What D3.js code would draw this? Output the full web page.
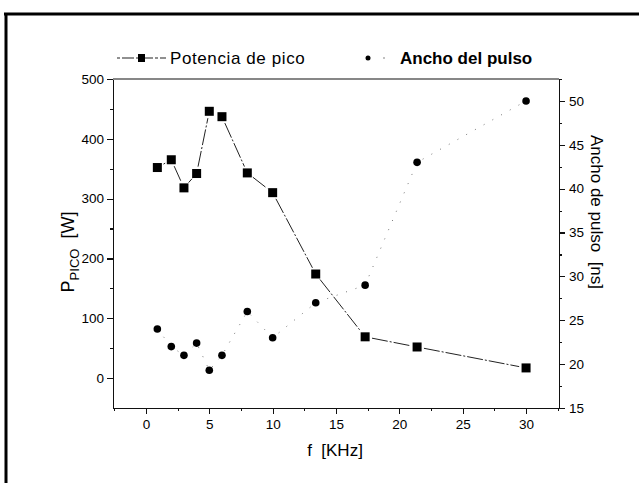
<!DOCTYPE html>
<html>
<head>
  <meta charset="UTF-8">
  <title>Potencia de pico / Ancho del pulso</title>
  <style>
    body { margin: 0; background: #fff; }
    svg { display: block; }
    text { font-family: 'Liberation Sans', Arial, sans-serif; fill: #000; }
    .axis path, .axis line { stroke: #111; stroke-width: 1.2; shape-rendering: crispEdges; }
    .axis text { font-size: 13.5px; fill: #000; }
  </style>
</head>
<body>
<svg id="chart"></svg>

<script src="https://cdnjs.cloudflare.com/ajax/libs/d3/7.8.5/d3.min.js"></script>
<script>

// data
const freq     = [0.9, 2, 3, 4, 5, 6, 8, 10, 13.4, 17.3, 21.4, 30];       // f [KHz]
const potencia = [352, 365, 318, 342, 446, 437, 343, 310, 174, 69, 52, 17]; // P pico [W]
const pulso    = [24, 22, 21, 22.4, 19.3, 21, 26, 23, 27, 29, 43, 50];   // ancho [ns]

const xTicks  = [0, 5, 10, 15, 20, 25, 30];
const yLTicks = [0, 100, 200, 300, 400, 500];
const yRTicks = [15, 20, 25, 30, 35, 40, 45, 50];

const width = 639, height = 483;
const plot = {left: 113, right: 559, top: 79, bottom: 408};

let svg = d3.select("#chart")
    .attr("width", width)
    .attr("height", height);

// page frame (top and left edge of the scanned box)
svg.append("line")
    .attr("x1", 4).attr("x2", width).attr("y1", 14).attr("y2", 14)
    .attr("stroke", "#000").attr("stroke-width", 3);
svg.append("line")
    .attr("x1", 6).attr("x2", 6).attr("y1", 13).attr("y2", height)
    .attr("stroke", "#000").attr("stroke-width", 3);

// scales
let x = d3.scaleLinear().domain([-2.6, 32.6]).range([plot.left, plot.right]);
let yL = d3.scaleLinear().domain([-50, 500]).range([plot.bottom, plot.top]);
let yR = d3.scaleLinear().domain([15, 52.5]).range([plot.bottom, plot.top]);

// minor tick positions
const xMinor = d3.range(-2.5, 32.6, 5);
const yLMinor = d3.range(50, 500, 100);
const yRMinor = d3.range(17.5, 52.6, 5);

// axes
svg.append("g")
    .attr("class", "axis")
    .attr("transform", "translate(0," + plot.bottom + ")")
    .call(d3.axisBottom(x).tickValues(xTicks).tickSize(6).tickSizeOuter(0).tickPadding(4))
    .call(g => g.selectAll("text").attr("dy", "0.85em"));
svg.append("g")
    .attr("class", "axis")
    .attr("transform", "translate(0," + plot.bottom + ")")
    .call(d3.axisBottom(x).tickValues(xMinor).tickSize(3).tickFormat(""))
    .call(g => g.select(".domain").remove());

svg.append("g")
    .attr("class", "axis")
    .attr("transform", "translate(" + plot.left + ",0)")
    .call(d3.axisLeft(yL).tickValues(yLTicks).tickSize(6).tickSizeOuter(0).tickPadding(3));
svg.append("g")
    .attr("class", "axis")
    .attr("transform", "translate(" + plot.left + ",0)")
    .call(d3.axisLeft(yL).tickValues(yLMinor).tickSize(3).tickFormat(""))
    .call(g => g.select(".domain").remove());

svg.append("g")
    .attr("class", "axis")
    .attr("transform", "translate(" + plot.right + ",0)")
    .call(d3.axisRight(yR).tickValues(yRTicks).tickSize(6).tickSizeOuter(0).tickPadding(4));
svg.append("g")
    .attr("class", "axis")
    .attr("transform", "translate(" + plot.right + ",0)")
    .call(d3.axisRight(yR).tickValues(yRMinor).tickSize(3).tickFormat(""))
    .call(g => g.select(".domain").remove());

// top frame line
svg.append("line")
    .attr("x1", plot.left).attr("x2", plot.right)
    .attr("y1", plot.top).attr("y2", plot.top)
    .attr("stroke", "#111").attr("stroke-width", 1.2);

// Ancho del pulso: sparse dotted line + round markers
let pulsoPts = freq.map((f, i) => [x(f), yR(pulso[i])]);
svg.append("path")
    .attr("d", d3.line()(pulsoPts))
    .attr("fill", "none")
    .attr("stroke", "#777")
    .attr("stroke-width", 1)
    .attr("stroke-dasharray", "1,9");
svg.append("g")
    .selectAll("circle")
    .data(pulsoPts)
    .join("circle")
    .attr("cx", d => d[0])
    .attr("cy", d => d[1])
    .attr("r", 3.8)
    .attr("fill", "#000");

// Potencia de pico: line with gaps around the symbols, square markers
let potPts = freq.map((f, i) => [x(f), yL(potencia[i])]);
const gap = 7;
let segs = [];
for (let i = 0; i < potPts.length - 1; i++) {
    let [x1, y1] = potPts[i], [x2, y2] = potPts[i + 1];
    let len = Math.hypot(x2 - x1, y2 - y1);
    if (len <= 2 * gap + 1) continue;
    let ux = (x2 - x1) / len, uy = (y2 - y1) / len;
    segs.push([[x1 + ux * gap, y1 + uy * gap], [x2 - ux * gap, y2 - uy * gap]]);
}
svg.append("g")
    .selectAll("path")
    .data(segs)
    .join("path")
    .attr("d", d => d3.line()(d))
    .attr("fill", "none")
    .attr("stroke", "#222")
    .attr("stroke-width", 1)
    .attr("stroke-dasharray", "16,2,2,2");
svg.append("g")
    .selectAll("rect")
    .data(potPts)
    .join("rect")
    .attr("x", d => d[0] - 4.5)
    .attr("y", d => d[1] - 4.5)
    .attr("width", 9)
    .attr("height", 9)
    .attr("fill", "#000");

// legend
let leg = svg.append("g");
leg.append("line")
    .attr("x1", 117).attr("x2", 166).attr("y1", 58).attr("y2", 58)
    .attr("stroke", "#222").attr("stroke-width", 1.2)
    .attr("stroke-dasharray", "3,2,12,2");
leg.append("rect")
    .attr("x", 138).attr("y", 54).attr("width", 7).attr("height", 8)
    .attr("fill", "#000");
leg.append("text")
    .attr("x", 170).attr("y", 64)
    .style("font-size", "17px")
    .style("letter-spacing", "0.6px")
    .text("Potencia de pico");
leg.append("circle")
    .attr("cx", 368).attr("cy", 58).attr("r", 2.5)
    .attr("fill", "#000");
leg.append("circle")
    .attr("cx", 384).attr("cy", 58).attr("r", 0.7)
    .attr("fill", "#555");
leg.append("text")
    .attr("x", 400).attr("y", 64)
    .style("font-size", "17px")
    .style("font-weight", "bold")
    .text("Ancho del pulso");

// axis titles
let ylab = svg.append("text")
    .attr("transform", "translate(74," + 252 + ") rotate(-90)")
    .attr("text-anchor", "middle")
    .attr("xml:space", "preserve")
    .style("font-size", "18px");
ylab.append("tspan").text("P");
ylab.append("tspan").attr("dy", 5).style("font-size", "13px").text("PICO");
ylab.append("tspan").attr("dy", -5).text("  [W]");

svg.append("text")
    .attr("x", 335).attr("y", 456)
    .attr("text-anchor", "middle")
    .style("font-size", "17px")
    .attr("xml:space", "preserve")
    .text("f  [KHz]");

svg.append("text")
    .attr("transform", "translate(591," + 212 + ") rotate(90)")
    .attr("text-anchor", "middle")
    .style("font-size", "17px")
    .attr("xml:space", "preserve")
    .text("Ancho de pulso  [ns]");

</script>
</body>
</html>
